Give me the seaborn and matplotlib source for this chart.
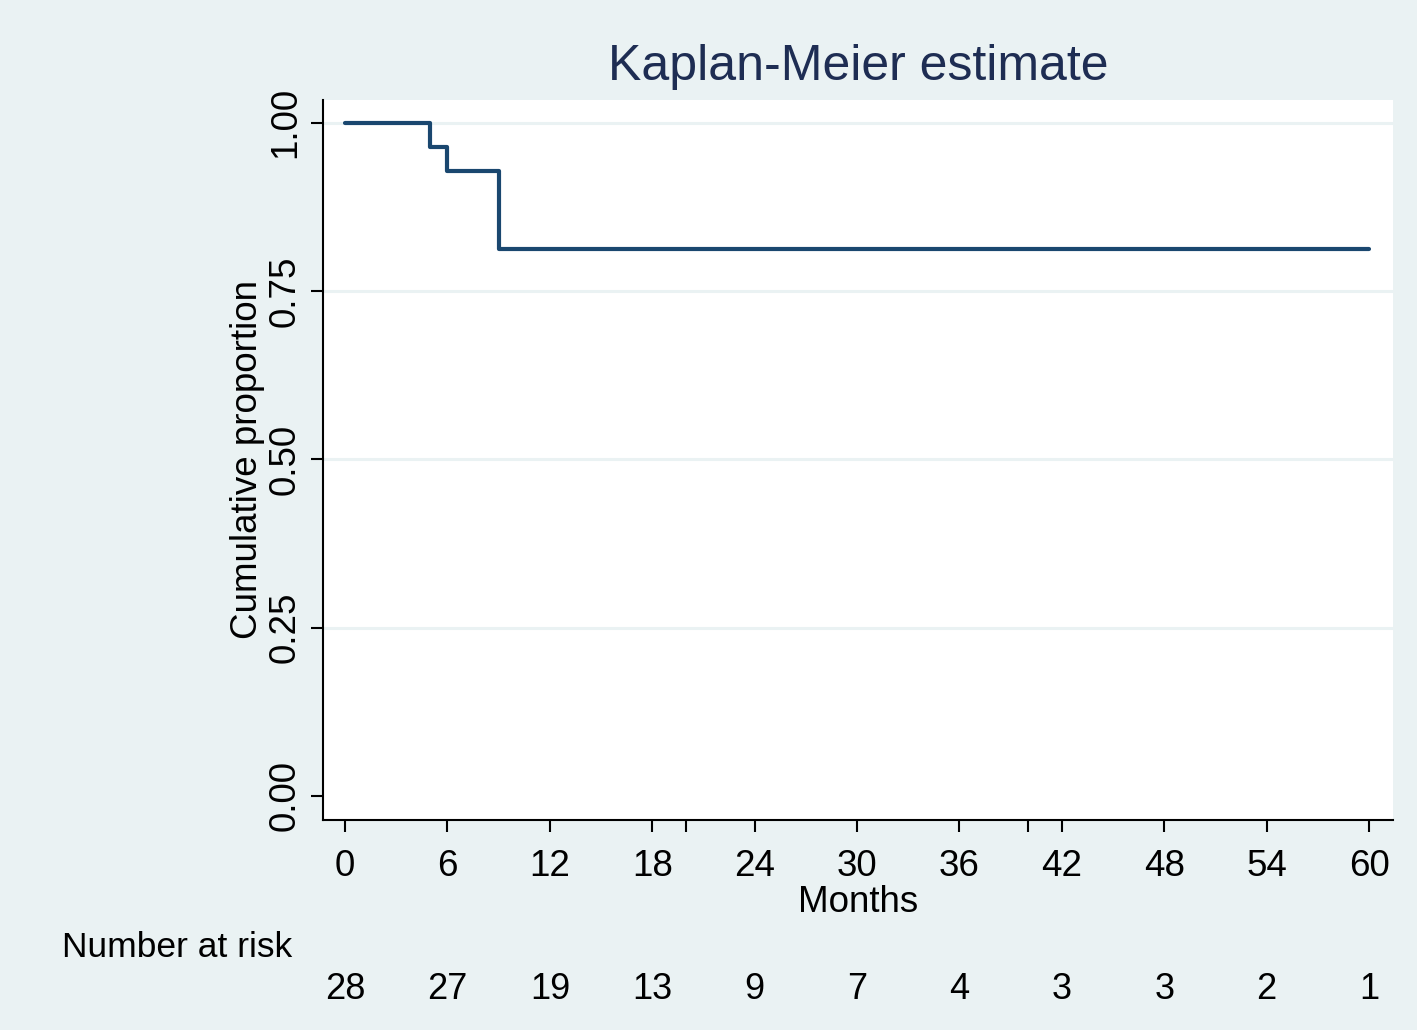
import matplotlib.pyplot as plt
import matplotlib.transforms as mtransforms
import seaborn as sns

# Kaplan-Meier step values
months = [0, 5, 6, 9, 60]
survival = [1.0, 0.9643, 0.9286, 0.8125, 0.8125]

risk_times = [0, 6, 12, 18, 24, 30, 36, 42, 48, 54, 60]
at_risk = [28, 27, 19, 13, 9, 7, 4, 3, 3, 2, 1]

x_ticks = [0, 6, 12, 18, 20, 24, 30, 36, 40, 42, 48, 54, 60]
x_labels = ['0', '6', '12', '18', '', '24', '30', '36', '', '42', '48', '54', '60']
y_ticks = [0.0, 0.25, 0.5, 0.75, 1.0]
y_labels = ['0.00', '0.25', '0.50', '0.75', '1.00']

BG = '#EAF2F3'
NAVY = '#1A476F'
TITLE = '#1E2D53'

sns.set_theme(style='white')
plt.rcParams['font.family'] = ['Liberation Sans', 'DejaVu Sans']

fig = plt.figure(figsize=(14.17, 10.30), dpi=100)
fig.patch.set_facecolor(BG)
ax = fig.add_axes([0.228, 0.2039, 0.755, 0.699])
ax.set_facecolor('white')

for yv in y_ticks[1:]:
    ax.axhline(yv, color=BG, lw=2.2, zorder=0)

sns.lineplot(x=months, y=survival, drawstyle='steps-post', color=NAVY,
             linewidth=3.0, ax=ax, estimator=None)

ax.set_xlim(-1.29, 61.4)
ax.set_ylim(-0.036, 1.034)
ax.set_xticks(x_ticks)
ax.set_xticklabels(x_labels)
ax.set_yticks(y_ticks)
ax.set_yticklabels(y_labels, rotation=90, va='center')
ax.tick_params(axis='both', which='major', direction='out', length=8.6, width=1.5,
               color='black', labelsize=26.5, labelcolor='black',
               bottom=True, left=True)
ax.tick_params(axis='x', pad=12)
ax.tick_params(axis='y', pad=6)

for side in ['top', 'right']:
    ax.spines[side].set_visible(False)
for side in ['left', 'bottom']:
    ax.spines[side].set_color('black')
    ax.spines[side].set_linewidth(1.5)

ax.set_xlabel('Months', fontsize=26.5, color='black', labelpad=1)
ax.set_ylabel('Cumulative proportion', fontsize=26.5, color='black', labelpad=2)

fig.text(0.6055, 0.935, 'Kaplan-Meier estimate', ha='center', va='center',
         fontsize=36, color=TITLE)

# Number at risk table below the axis
fig.text(0.044, 0.080, 'Number at risk', ha='left', va='center', fontsize=25.5, color='black')
trans = mtransforms.blended_transform_factory(ax.transData, fig.transFigure)
for t, n in zip(risk_times, at_risk):
    ax.text(t, 0.039, str(n), transform=trans, ha='center', va='center',
            fontsize=26, color='black')

fig.savefig('out.png', dpi=100, facecolor=BG)
